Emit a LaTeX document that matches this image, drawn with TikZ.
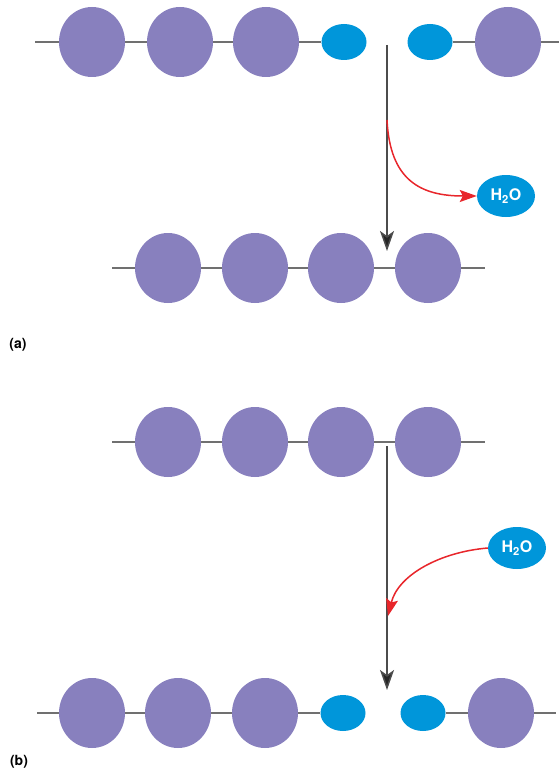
\documentclass[tikz,border=0pt]{standalone}
\usepackage{fontspec}
\setmainfont{TeX Gyre Heros}
\usetikzlibrary{shapes.geometric,arrows.meta,positioning}
\definecolor{sugar}{RGB}{136,128,190}
\definecolor{water}{RGB}{0,150,218}
\definecolor{chain}{RGB}{112,112,112}
\definecolor{loss}{RGB}{232,38,43}
\begin{document}
\begin{tikzpicture}[x=1pt,y=-1pt,
	mono/.style={ellipse,fill=sugar,minimum width=66pt,minimum height=70pt,inner sep=0pt},
	end/.style={ellipse,fill=water,minimum width=45pt,minimum height=36pt,inner sep=0pt},
	mol/.style={ellipse,fill=water,text=white,font=\bfseries\fontsize{16}{16}\selectfont,minimum width=58pt,minimum height=42pt,inner sep=0pt},
	link/.style={draw=chain,line width=2pt},
	step arrow/.style={draw=black!70,line width=1.5pt,-{Stealth[length=20pt,width=14pt,inset=5pt,fill=black!85]}},
	water arrow/.style={draw=loss,line width=1.5pt,-{Stealth[length=17pt,width=12pt,inset=3pt]}},
	tag/.style={font=\bfseries\fontsize{14}{14}\selectfont}]
	\useasboundingbox (0,0) rectangle (559,773);
	% (a) condensation
	\coordinate (a0) at (35,42);
	\node[mono] (a1) at (92,42) {};
	\node[mono] (a2) at (180,42) {};
	\node[mono] (a3) at (266,42) {};
	\node[end] (a4) at (344,42) {};
	\node[end] (a5) at (430,42) {};
	\node[mono] (a6) at (508,42) {};
	\coordinate (a7) at (559,42);
	\draw[link] (a0) -- (a1) -- (a2) -- (a3) -- (a4);
	\draw[link] (a5) -- (a6) -- (a7);
	\coordinate (b0) at (112,268);
	\node[mono] (b1) at (168,268) {};
	\node[mono] (b2) at (255,268) {};
	\node[mono] (b3) at (341,268) {};
	\node[mono] (b4) at (428,268) {};
	\coordinate (b5) at (485,268);
	\draw[link] (b0) -- (b1) -- (b2) -- (b3) -- (b4) -- (b5);
	\coordinate (sa) at (387,45);
	\coordinate (ta) at (387,251);
	\draw[step arrow] (sa) -- (ta);
	\node[mol] (wa) at (506,196) {H\textsubscript{2}O};
	\coordinate (ra) at (387,120);
	\draw[water arrow] (ra) .. controls (390,180) and (420,196) .. (wa.west);
	\node[tag] (la) at (18,345) {(a)};
	% (b) hydrolysis
	\coordinate (c0) at (112,442);
	\node[mono] (c1) at (168,442) {};
	\node[mono] (c2) at (255,442) {};
	\node[mono] (c3) at (341,442) {};
	\node[mono] (c4) at (428,442) {};
	\coordinate (c5) at (485,442);
	\draw[link] (c0) -- (c1) -- (c2) -- (c3) -- (c4) -- (c5);
	\coordinate (d0) at (37,713);
	\node[mono] (d1) at (92,713) {};
	\node[mono] (d2) at (178,713) {};
	\node[mono] (d3) at (265,713) {};
	\node[end] (d4) at (343,713) {};
	\node[end] (d5) at (423,713) {};
	\node[mono] (d6) at (501,713) {};
	\coordinate (d7) at (556,713);
	\draw[link] (d0) -- (d1) -- (d2) -- (d3) -- (d4);
	\draw[link] (d5) -- (d6) -- (d7);
	\coordinate (sb) at (387,446);
	\coordinate (tb) at (387,690);
	\draw[step arrow] (sb) -- (tb);
	\node[mol] (wb) at (517,548) {H\textsubscript{2}O};
	\coordinate (rb) at (388,616);
	\draw[water arrow] (wb.west) .. controls (440,552) and (398,575) .. (rb);
	\node[tag] (lb) at (19,762) {(b)};
\end{tikzpicture}
\end{document}
